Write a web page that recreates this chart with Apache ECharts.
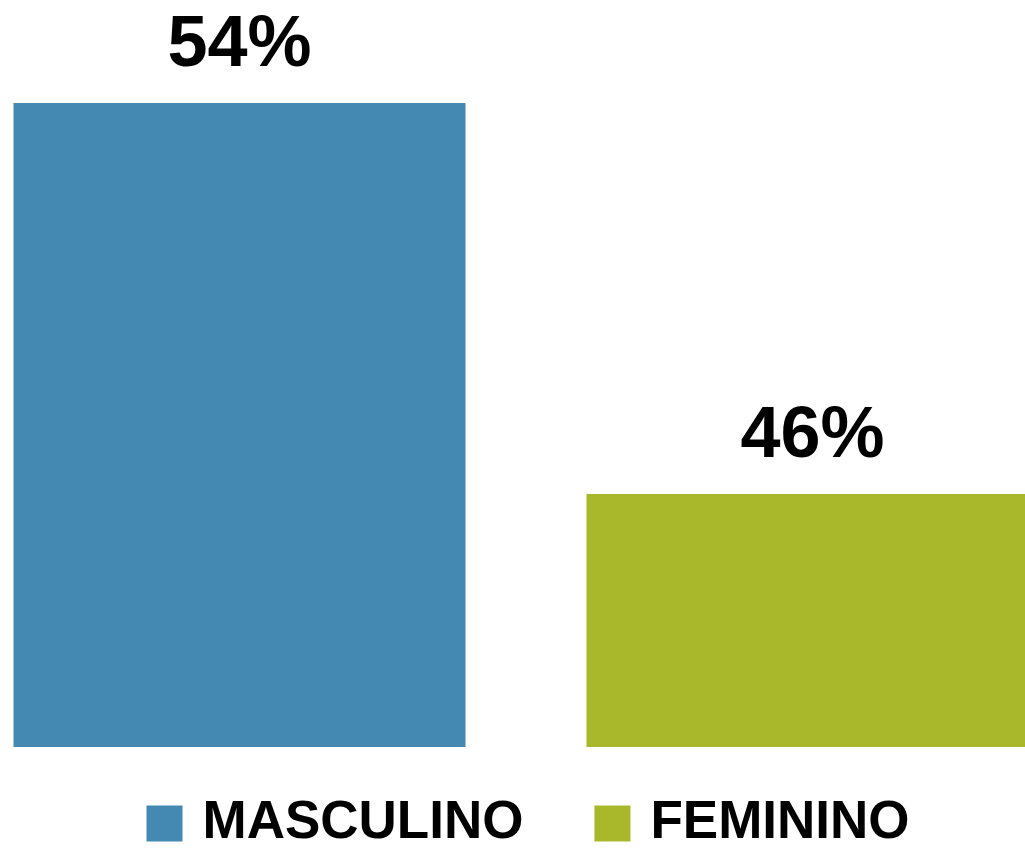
<!DOCTYPE html>
<html>
<head>
<meta charset="utf-8">
<script src="https://cdn.jsdelivr.net/npm/echarts@6/dist/echarts.min.js"></script>
<style>
  html, body { margin: 0; padding: 0; background: #fff; overflow: hidden; }
  /* chart is wider than the page: the right bar runs past the edge like the original */
  #chart { width: 1146px; height: 848px; margin-left: -47.5px; }
</style>
</head>
<body>
<div id="chart"></div>
<script>
// data
const categories = ['MASCULINO', 'FEMININO'];
const values = [54, 46];
const barColors = ['#4389B2', '#A8B82A'];

const chart = echarts.init(document.getElementById('chart'));

// one series per category so the legend gets both entries
const series = categories.map((name, i) => ({
  name: name,
  type: 'bar',
  stack: 'all',
  barWidth: 452,
  itemStyle: { color: barColors[i] },
  label: {
    show: true,
    position: 'top',
    distance: 21,
    formatter: '{c}%',
    color: '#000',
    fontFamily: 'Liberation Sans',
    fontWeight: 'bold',
    fontSize: 72
  },
  data: categories.map((c, j) => (j === i ? values[i] : null))
}));

chart.setOption({
  animation: false,
  legend: {
    data: categories,
    left: 193.5,
    top: 797,
    padding: 0,
    icon: 'rect',
    itemWidth: 36,
    itemHeight: 36,
    itemGap: 71,
    textStyle: {
      color: '#000',
      fontFamily: 'Liberation Sans',
      fontWeight: 'bold',
      fontSize: 53,
      padding: [0, 0, 0, 15]
    }
  },
  grid: {
    left: 0,
    right: 0,
    top: 103,
    bottom: 101
  },
  xAxis: {
    type: 'category',
    data: categories,
    show: false
  },
  yAxis: {
    type: 'value',
    min: 40.82,
    max: 54,
    show: false,
    splitLine: { show: false }
  },
  series: series
});
</script>
</body>
</html>
